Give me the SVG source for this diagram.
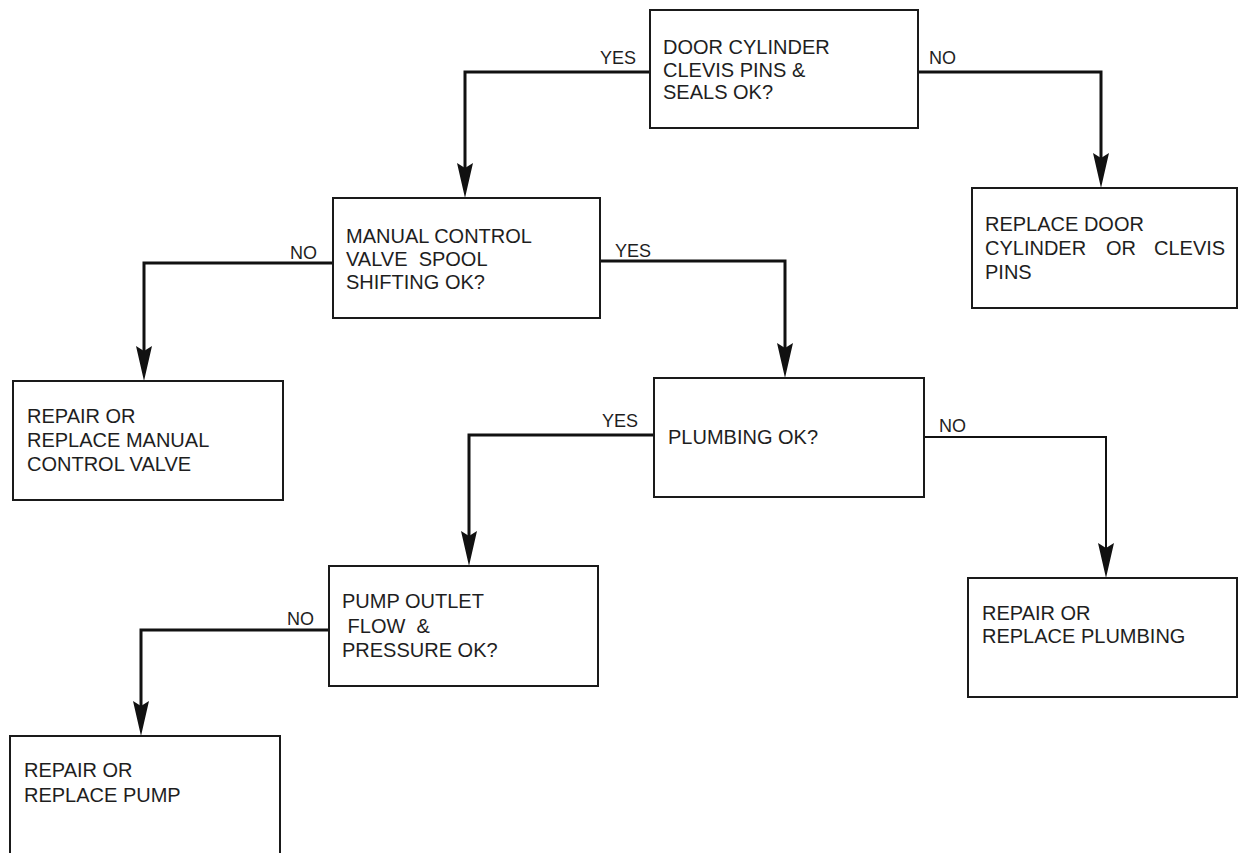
<svg xmlns="http://www.w3.org/2000/svg" width="1238" height="853" viewBox="0 0 1238 853">
<style>
  .box { fill: #ffffff; stroke: #1a1a1a; stroke-width: 2; }
  .t { font-family: "Liberation Sans", Arial, sans-serif; font-size: 20px; fill: #1e1e1e; white-space: pre; }
  .lbl { font-family: "Liberation Sans", Arial, sans-serif; font-size: 18px; fill: #1e1e1e; }
  .c { fill: none; stroke: #111111; stroke-width: 3; stroke-linejoin: miter; }
  .c.thin { stroke-width: 2; }
</style>
<defs>
  <marker id="arr" markerUnits="userSpaceOnUse" viewBox="0 0 35 16" markerWidth="35" markerHeight="16" refX="25" refY="8" orient="auto">
    <path d="M0,0 L35,8 L0,16 L5,8 z" fill="#111111"/>
  </marker>
</defs>
<rect width="1238" height="853" fill="#ffffff"/>

<g id="connectors">
  <path class="c" d="M650,72 H465 V188" marker-end="url(#arr)"/>
  <path class="c" d="M918,72 H1101 V178" marker-end="url(#arr)"/>
  <path class="c" d="M333,263 H144 V371" marker-end="url(#arr)"/>
  <path class="c" d="M600,261 H785 V368" marker-end="url(#arr)"/>
  <path class="c" d="M654,435 H469 V556" marker-end="url(#arr)"/>
  <path class="c thin" d="M924,437 H1106 V568" marker-end="url(#arr)"/>
  <path class="c" d="M329,630 H141 V726" marker-end="url(#arr)"/>
  <text class="lbl" x="600" y="64">YES</text>
  <text class="lbl" x="929" y="64">NO</text>
  <text class="lbl" x="290" y="259">NO</text>
  <text class="lbl" x="615" y="257">YES</text>
  <text class="lbl" x="602" y="427">YES</text>
  <text class="lbl" x="939" y="432">NO</text>
  <text class="lbl" x="287" y="625">NO</text>
</g>

<g id="door-cylinder-check">
  <rect class="box" x="650" y="10" width="268" height="118"/>
  <text class="t" x="663" y="54">DOOR CYLINDER</text>
  <text class="t" x="663" y="77">CLEVIS PINS &amp;</text>
  <text class="t" x="663" y="99">SEALS OK?</text>
</g>

<g id="replace-door-cylinder">
  <rect class="box" x="972" y="188" width="265" height="120"/>
  <text class="t" x="985" y="231">REPLACE DOOR</text>
  <text class="t" y="255"><tspan x="985">CYLINDER</tspan><tspan x="1106">OR</tspan><tspan x="1154">CLEVIS</tspan></text>
  <text class="t" x="985" y="279">PINS</text>
</g>

<g id="manual-valve-check">
  <rect class="box" x="333" y="198" width="267" height="120"/>
  <text class="t" x="346" y="243">MANUAL CONTROL</text>
  <text class="t" x="346" y="266">VALVE  SPOOL</text>
  <text class="t" x="346" y="289">SHIFTING OK?</text>
</g>

<g id="repair-manual-valve">
  <rect class="box" x="13" y="381" width="270" height="119"/>
  <text class="t" x="27" y="423">REPAIR OR</text>
  <text class="t" x="27" y="447">REPLACE MANUAL</text>
  <text class="t" x="27" y="471">CONTROL VALVE</text>
</g>

<g id="plumbing-check">
  <rect class="box" x="654" y="378" width="270" height="119"/>
  <text class="t" x="668" y="444">PLUMBING OK?</text>
</g>

<g id="repair-plumbing">
  <rect class="box" x="968" y="578" width="269" height="119"/>
  <text class="t" x="982" y="620">REPAIR OR</text>
  <text class="t" x="982" y="643">REPLACE PLUMBING</text>
</g>

<g id="pump-check">
  <rect class="box" x="329" y="566" width="269" height="120"/>
  <text class="t" x="342" y="608">PUMP OUTLET</text>
  <text class="t" x="342" y="633"> FLOW  &amp;</text>
  <text class="t" x="342" y="657">PRESSURE OK?</text>
</g>

<g id="repair-pump">
  <rect class="box" x="10" y="736" width="270" height="130"/>
  <text class="t" x="24" y="777">REPAIR OR</text>
  <text class="t" x="24" y="802">REPLACE PUMP</text>
</g>
</svg>
